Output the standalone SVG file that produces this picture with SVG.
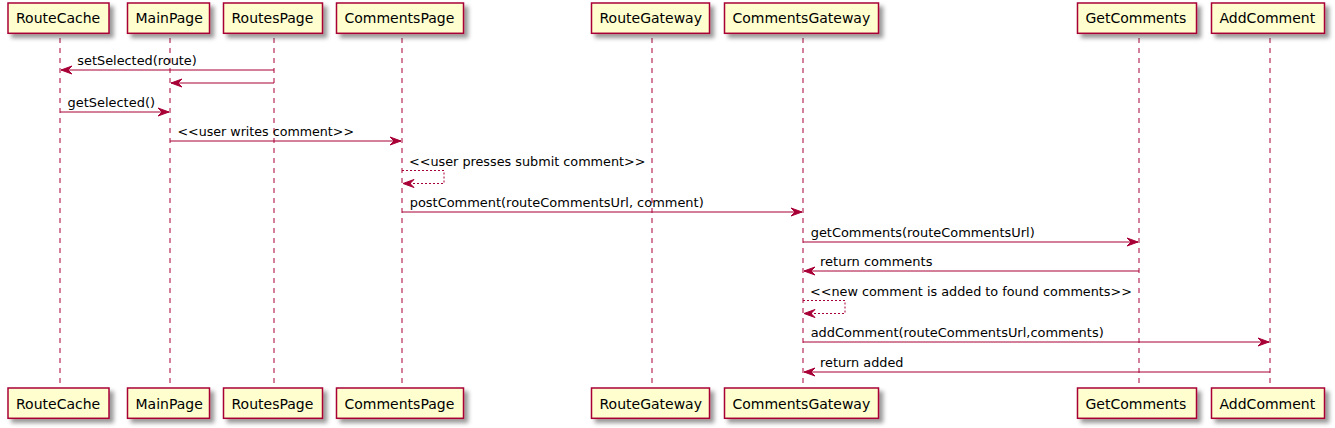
<svg xmlns="http://www.w3.org/2000/svg" width="1335" height="428" viewBox="0 0 1335 428">
<defs>
<filter id="sh" x="-1" y="-1" width="300%" height="300%">
<feGaussianBlur in="SourceAlpha" result="b" stdDeviation="2"/>
<feColorMatrix in="b" result="b2" type="matrix" values="0 0 0 0 0 0 0 0 0 0 0 0 0 0 0 0 0 0 .4 0"/>
<feOffset dx="4" dy="4" in="b2" result="b3"/>
<feBlend in="SourceGraphic" in2="b3" mode="normal"/>
</filter>
</defs>
<style>
.box{fill:#FEFECE;stroke:#A80036;stroke-width:1.5;filter:url(#sh)}
.life{stroke:#A80036;stroke-width:1;stroke-dasharray:5,5;fill:none}
.pt{font-family:"DejaVu Sans",Verdana,sans-serif;font-size:14px;fill:#000}
.mt{font-family:"DejaVu Sans",Verdana,sans-serif;font-size:13px;fill:#000}
.msg{stroke:#A80036;stroke-width:1;fill:none}
.dash{stroke:#A80036;stroke-width:1;fill:none;stroke-dasharray:2,2}
.ah{fill:#A80036;stroke:#A80036;stroke-width:1}
</style>
<rect width="1335" height="428" fill="#FFFFFF"/>
<g id="RouteCache">
<line class="life" x1="60" y1="38" x2="60" y2="387"/>
<rect class="box" x="8" y="3" width="101" height="30.3"/>
<text class="pt" x="16" y="23">RouteCache</text>
<rect class="box" x="8" y="388" width="101" height="30.3"/>
<text class="pt" x="16" y="408.5">RouteCache</text>
</g>
<g id="MainPage">
<line class="life" x1="170" y1="38" x2="170" y2="387"/>
<rect class="box" x="127.5" y="3" width="82" height="30.3"/>
<text class="pt" x="135.5" y="23">MainPage</text>
<rect class="box" x="127.5" y="388" width="82" height="30.3"/>
<text class="pt" x="135.5" y="408.5">MainPage</text>
</g>
<g id="RoutesPage">
<line class="life" x1="274" y1="38" x2="274" y2="387"/>
<rect class="box" x="223.5" y="3" width="99" height="30.3"/>
<text class="pt" x="231.5" y="23">RoutesPage</text>
<rect class="box" x="223.5" y="388" width="99" height="30.3"/>
<text class="pt" x="231.5" y="408.5">RoutesPage</text>
</g>
<g id="CommentsPage">
<line class="life" x1="402" y1="38" x2="402" y2="387"/>
<rect class="box" x="336.5" y="3" width="127" height="30.3"/>
<text class="pt" x="344.5" y="23">CommentsPage</text>
<rect class="box" x="336.5" y="388" width="127" height="30.3"/>
<text class="pt" x="344.5" y="408.5">CommentsPage</text>
</g>
<g id="RouteGateway">
<line class="life" x1="652" y1="38" x2="652" y2="387"/>
<rect class="box" x="591.5" y="3" width="118" height="30.3"/>
<text class="pt" x="599.5" y="23">RouteGateway</text>
<rect class="box" x="591.5" y="388" width="118" height="30.3"/>
<text class="pt" x="599.5" y="408.5">RouteGateway</text>
</g>
<g id="CommentsGateway">
<line class="life" x1="803" y1="38" x2="803" y2="387"/>
<rect class="box" x="724.5" y="3" width="154" height="30.3"/>
<text class="pt" x="732.5" y="23">CommentsGateway</text>
<rect class="box" x="724.5" y="388" width="154" height="30.3"/>
<text class="pt" x="732.5" y="408.5">CommentsGateway</text>
</g>
<g id="GetComments">
<line class="life" x1="1139" y1="38" x2="1139" y2="387"/>
<rect class="box" x="1077.5" y="3" width="119" height="30.3"/>
<text class="pt" x="1085.5" y="23">GetComments</text>
<rect class="box" x="1077.5" y="388" width="119" height="30.3"/>
<text class="pt" x="1085.5" y="408.5">GetComments</text>
</g>
<g id="AddComment">
<line class="life" x1="1270" y1="38" x2="1270" y2="387"/>
<rect class="box" x="1211.5" y="3" width="113" height="30.3"/>
<text class="pt" x="1219.5" y="23">AddComment</text>
<rect class="box" x="1211.5" y="388" width="113" height="30.3"/>
<text class="pt" x="1219.5" y="408.5">AddComment</text>
</g>
<g id="connectors">
<line class="msg" x1="274" y1="70" x2="61" y2="70"/>
<polygon class="ah" points="72,66 61,70 72,74 68,70"/>
<text class="mt" x="77.3" y="65" textLength="119.5" lengthAdjust="spacingAndGlyphs">setSelected(route)</text>

<line class="msg" x1="274" y1="83" x2="171" y2="83"/>
<polygon class="ah" points="182,79 171,83 182,87 178,83"/>

<line class="msg" x1="60" y1="112" x2="169" y2="112"/>
<polygon class="ah" points="158,108 169,112 158,116 162,112"/>
<text class="mt" x="67.5" y="107" textLength="87.5" lengthAdjust="spacingAndGlyphs">getSelected()</text>

<line class="msg" x1="170" y1="141" x2="401" y2="141"/>
<polygon class="ah" points="390,137 401,141 390,145 394,141"/>
<text class="mt" x="177.5" y="136" textLength="176.5" lengthAdjust="spacingAndGlyphs">&lt;&lt;user writes comment&gt;&gt;</text>

<polyline class="dash" points="402,170.5 444,170.5 444,183.5 403,183.5"/>
<polygon class="ah" points="414,179.5 403,183.5 414,187.5 410,183.5"/>
<text class="mt" x="409" y="165.5" textLength="236.5" lengthAdjust="spacingAndGlyphs">&lt;&lt;user presses submit comment&gt;&gt;</text>

<line class="msg" x1="402" y1="212" x2="802" y2="212"/>
<polygon class="ah" points="791,208 802,212 791,216 795,212"/>
<text class="mt" x="409.7" y="207" textLength="294" lengthAdjust="spacingAndGlyphs">postComment(routeCommentsUrl, comment)</text>

<line class="msg" x1="803" y1="242" x2="1138" y2="242"/>
<polygon class="ah" points="1127,238 1138,242 1127,246 1131,242"/>
<text class="mt" x="810.7" y="237" textLength="224" lengthAdjust="spacingAndGlyphs">getComments(routeCommentsUrl)</text>

<line class="msg" x1="1139" y1="271" x2="804" y2="271"/>
<polygon class="ah" points="815,267 804,271 815,275 811,271"/>
<text class="mt" x="820" y="266" textLength="112.5" lengthAdjust="spacingAndGlyphs">return comments</text>

<polyline class="dash" points="803,300.5 845,300.5 845,313.5 804,313.5"/>
<polygon class="ah" points="815,309.5 804,313.5 815,317.5 811,313.5"/>
<text class="mt" x="810" y="295.5" textLength="322" lengthAdjust="spacingAndGlyphs">&lt;&lt;new comment is added to found comments&gt;&gt;</text>

<line class="msg" x1="803" y1="342" x2="1269" y2="342"/>
<polygon class="ah" points="1258,338 1269,342 1258,346 1262,342"/>
<text class="mt" x="810.7" y="337" textLength="293" lengthAdjust="spacingAndGlyphs">addComment(routeCommentsUrl,comments)</text>

<line class="msg" x1="1270" y1="372" x2="804" y2="372"/>
<polygon class="ah" points="815,368 804,372 815,376 811,372"/>
<text class="mt" x="820" y="367" textLength="83.5" lengthAdjust="spacingAndGlyphs">return added</text>
</g>
</svg>
